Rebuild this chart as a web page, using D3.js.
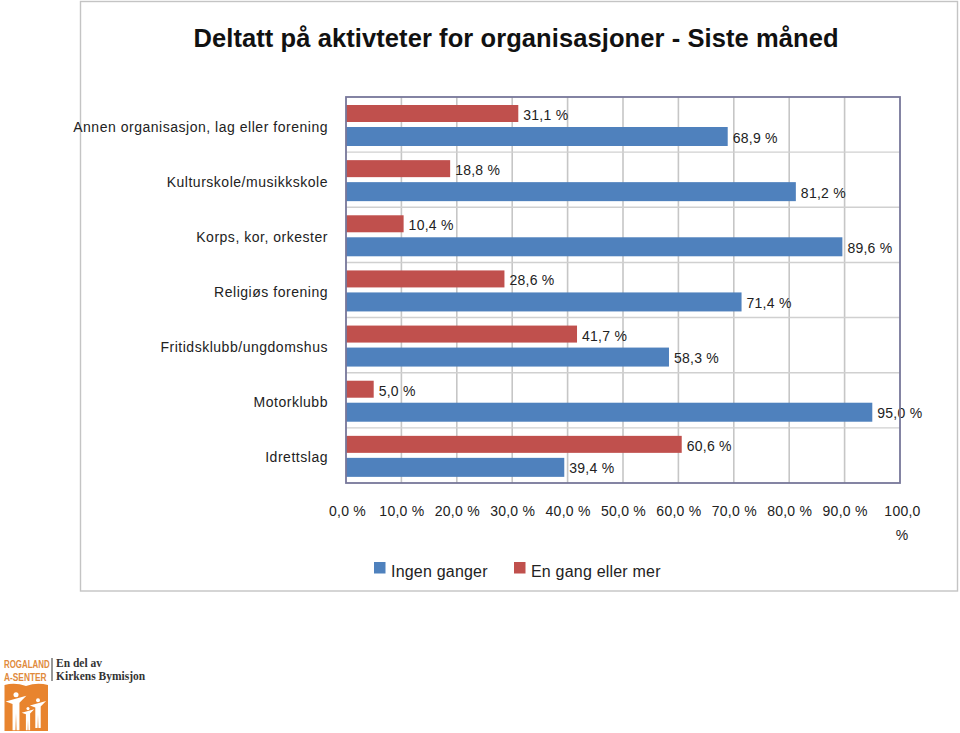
<!DOCTYPE html>
<html><head><meta charset="utf-8">
<script src="https://cdn.jsdelivr.net/npm/d3@7"></script>
<style>html,body{margin:0;padding:0;background:#fff}svg{display:block}text{font-family:"Liberation Sans",Arial,sans-serif}</style>
</head><body><svg id="c" width="960" height="733"></svg>
<script>
const titleText = "Deltatt på aktivteter for organisasjoner - Siste måned";
const categories = ["Annen organisasjon, lag eller forening","Kulturskole/musikkskole","Korps, kor, orkester","Religiøs forening","Fritidsklubb/ungdomshus","Motorklubb","Idrettslag"];
const ingenGanger = [68.9,81.2,89.6,71.4,58.3,95.0,39.4];
const enGangEllerMer = [31.1,18.8,10.4,28.6,41.7,5.0,60.6];
const tickValues = [0,10,20,30,40,50,60,70,80,90,100];
const seriesNames = ["Ingen ganger","En gang eller mer"];
const colors = ["#4f81bd","#c0504d"];

const svg = d3.select("#c");
const fmt = v => v.toFixed(1).replace(".", ",") + " %";
const L = 346, R = 900, T = 97, B = 483;
const x = d3.scaleLinear().domain([0,100]).range([L,R]);
const y = d3.scaleBand().domain(categories).range([T,B]);

svg.append("rect").attr("x",80.5).attr("y",1.5).attr("width",877).attr("height",589.5).attr("fill","#fff").attr("stroke","#c4c4c4").attr("stroke-width",1.4);

svg.append("text").attr("x",516).attr("y",47).attr("text-anchor","middle").attr("font-size",25.5).attr("font-weight","bold").attr("fill","#111").attr("textLength",645).text(titleText);

// gridlines
const g = svg.append("g");
g.selectAll("line.v").data(tickValues.slice(1,-1)).join("line").attr("x1",d=>x(d)).attr("x2",d=>x(d)).attr("y1",T).attr("y2",B).attr("stroke","#c6c6c6").attr("stroke-width",1.6);
g.selectAll("line.h").data(categories.slice(1)).join("line").attr("x1",L).attr("x2",R).attr("y1",d=>y(d)).attr("y2",d=>y(d)).attr("stroke","#d0d0d0").attr("stroke-width",1.4);

// bars
const rows = categories.map((c,i)=>({c,a:ingenGanger[i],b:enGangEllerMer[i]}));
const bh = 18;
const row = svg.selectAll("g.row").data(rows).join("g").attr("class","row").attr("transform",d=>`translate(0,${y(d.c)})`);
row.append("rect").attr("x",L).attr("y",8).attr("width",d=>x(d.b)-L).attr("height",bh-1).attr("fill",colors[1]);
row.append("rect").attr("x",L).attr("y",30).attr("width",d=>x(d.a)-L).attr("height",bh+1).attr("fill",colors[0]);
row.append("text").attr("x",d=>x(d.b)+5).attr("y",23).attr("font-size",14).attr("fill","#222").attr("letter-spacing",0.25).text(d=>fmt(d.b));
row.append("text").attr("x",d=>x(d.a)+5).attr("y",45.5).attr("font-size",14).attr("fill","#222").attr("letter-spacing",0.25).text(d=>fmt(d.a));
row.append("text").attr("x",328).attr("y",34.5).attr("text-anchor","end").attr("font-size",14).attr("fill","#222").attr("letter-spacing",0.52).text(d=>d.c);

// frame
svg.append("rect").attr("x",L).attr("y",T).attr("width",R-L).attr("height",B-T).attr("fill","none").attr("stroke","#77779a").attr("stroke-width",1.8);

// x axis labels
const axisG = svg.append("g").attr("transform",`translate(0,${B})`);
const axis = d3.axisBottom(x).tickValues(tickValues).tickSize(0).tickPadding(0).tickFormat(d=>d===100?"100,0":fmt(d));
axisG.call(axis);
axisG.select(".domain").remove();
axisG.selectAll("text").attr("font-size",14).attr("fill","#222").attr("letter-spacing",0.25).attr("y",32.5).attr("dy",0).style("font-family",'"Liberation Sans"').attr("dx",d=>d===0?1:(d===100?2:0));
axisG.append("text").attr("x",902).attr("y",57).attr("text-anchor","middle").attr("font-size",14).attr("fill","#222").text("%");

// legend
const lx = [374,514];
const leg = svg.selectAll("g.leg").data(seriesNames).join("g").attr("class","leg").attr("transform",(d,i)=>`translate(${lx[i]},562)`);
leg.append("rect").attr("width",11.5).attr("height",11.5).attr("fill",(d,i)=>colors[i]);
leg.append("text").attr("x",17).attr("y",14.5).attr("font-size",16).attr("fill","#222").attr("letter-spacing",0.2).text(d=>d);

// logo
const logo = svg.append("g");
logo.append("text").attr("transform","translate(4,668) scale(.72,1)").attr("font-size",11).attr("font-weight","bold").attr("fill","#e08a3c").text("ROGALAND");
logo.append("text").attr("transform","translate(4,681) scale(.76,1)").attr("font-size",11).attr("font-weight","bold").attr("fill","#e08a3c").text("A-SENTER");
logo.append("rect").attr("x",51.5).attr("y",658).attr("width",1).attr("height",23).attr("fill","#333");
logo.append("text").attr("transform","translate(56,667)").attr("font-size",11.5).attr("font-weight","bold").attr("fill","#333").style("font-family","Liberation Serif").text("En del av");
logo.append("text").attr("transform","translate(56,680)").attr("font-size",11.5).attr("font-weight","bold").attr("fill","#333").style("font-family","Liberation Serif").text("Kirkens Bymisjon");
logo.append("path").attr("d","M4.5 685 Q15 682 26 686 Q37 682 48 685 V731 H4.5 Z").attr("fill","#e8842e");
const fig=[[16,697,1.15],[38,702,.9],[28,710,.7]];
fig.forEach(([cx,cy,s])=>{
  logo.append("circle").attr("cx",cx).attr("cy",cy-2*s).attr("r",2.2*s).attr("fill","#fff");
  logo.append("path").attr("d",`M${cx-9*s} ${cy+4*s} L${cx+9*s} ${cy-1*s} L${cx+3*s} ${cy+5*s} L${cx+3*s} ${cy+29*s} L${cx+.5*s} ${cy+29*s} L${cx} ${cy+14*s} L${cx-.5*s} ${cy+29*s} L${cx-3*s} ${cy+29*s} L${cx-3*s} ${cy+6*s} Z`).attr("fill","#fff");
});
</script></body></html>
